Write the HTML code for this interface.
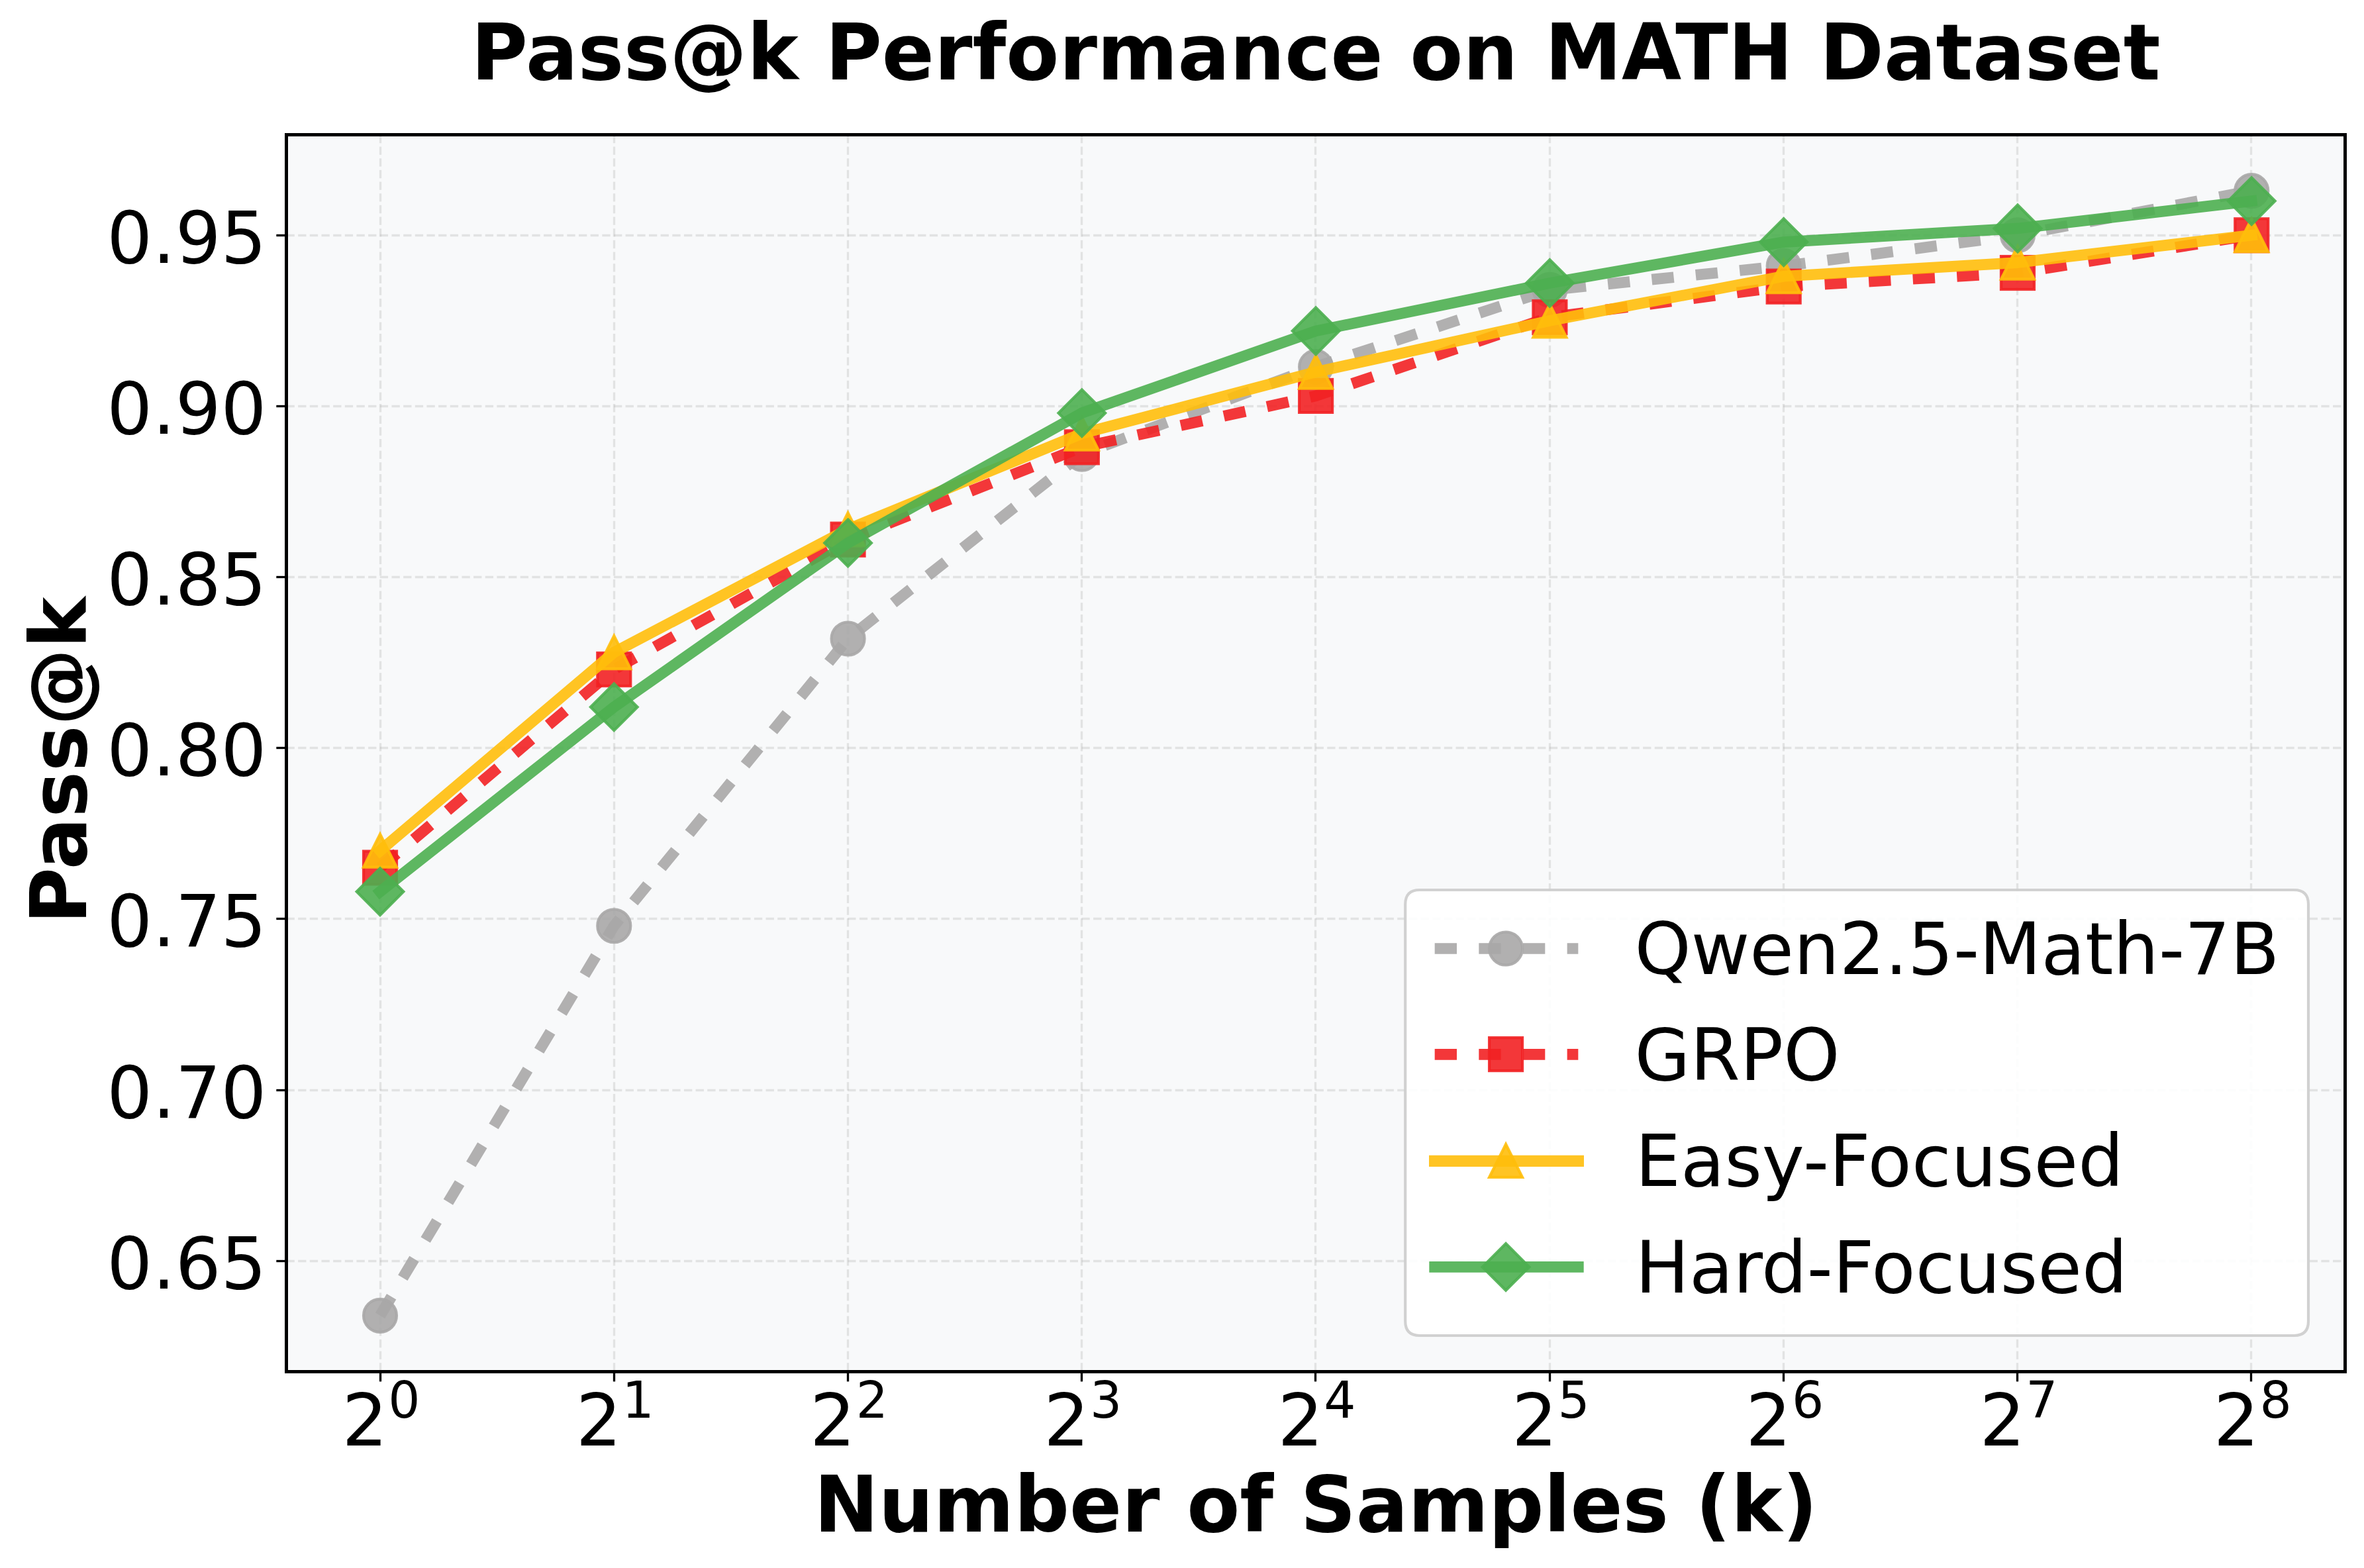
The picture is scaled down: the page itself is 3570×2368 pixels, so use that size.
<!DOCTYPE html>
<html lang="en">
<head>
<meta charset="utf-8">
<title>Pass@k Performance on MATH Dataset</title>
<style>
html,body{margin:0;padding:0;background:#fff;}
body{width:3570px;height:2368px;overflow:hidden;}
svg{display:block;}
svg text{font-family:"DejaVu Sans", "Liberation Sans", sans-serif;fill:#000;}
</style>
</head>
<body>
<svg width="3570" height="2368" viewBox="0 0 3570 2368">
<rect width="3570" height="2368" fill="#ffffff"/>
<rect x="436" y="207" width="3102" height="1861" fill="#f8f9fa"/>
<g stroke="#b0b0b0" stroke-opacity="0.3" stroke-width="3.33" stroke-dasharray="12.33 5.33" fill="none">
<path d="M574.5 2070.5 V203.5"/>
<path d="M927.5 2070.5 V203.5"/>
<path d="M1280.5 2070.5 V203.5"/>
<path d="M1633.5 2070.5 V203.5"/>
<path d="M1986.5 2070.5 V203.5"/>
<path d="M2340.5 2070.5 V203.5"/>
<path d="M2693.5 2070.5 V203.5"/>
<path d="M3046.5 2070.5 V203.5"/>
<path d="M3399.5 2070.5 V203.5"/>
<path d="M432.5 1904.5 H3541.5"/>
<path d="M432.5 1646.5 H3541.5"/>
<path d="M432.5 1387.5 H3541.5"/>
<path d="M432.5 1129.5 H3541.5"/>
<path d="M432.5 871.5 H3541.5"/>
<path d="M432.5 613.5 H3541.5"/>
<path d="M432.5 355.5 H3541.5"/>
</g>
<clipPath id="axclip"><rect x="432.5" y="203.5" width="3109" height="1868"/></clipPath>
<g clip-path="url(#axclip)">
<path d="M574 1986.86 L927.28 1398.24 L1280.56 964.52 L1633.84 685.7 L1987.12 554.04 L2340.4 437.86 L2693.68 401.72 L3046.96 355.25 L3400.24 288.13" fill="none" stroke="#a9a7a7" stroke-opacity="0.9" stroke-width="16.67" stroke-dasharray="33.33 33.33" stroke-linecap="butt" stroke-linejoin="round"/>
<circle cx="574" cy="1986.86" r="25" fill="#a9a7a7" stroke="#a9a7a7" stroke-width="4.17" fill-opacity="0.9" stroke-opacity="0.9" stroke-linejoin="miter"/>
<circle cx="927.28" cy="1398.24" r="25" fill="#a9a7a7" stroke="#a9a7a7" stroke-width="4.17" fill-opacity="0.9" stroke-opacity="0.9" stroke-linejoin="miter"/>
<circle cx="1280.56" cy="964.52" r="25" fill="#a9a7a7" stroke="#a9a7a7" stroke-width="4.17" fill-opacity="0.9" stroke-opacity="0.9" stroke-linejoin="miter"/>
<circle cx="1633.84" cy="685.7" r="25" fill="#a9a7a7" stroke="#a9a7a7" stroke-width="4.17" fill-opacity="0.9" stroke-opacity="0.9" stroke-linejoin="miter"/>
<circle cx="1987.12" cy="554.04" r="25" fill="#a9a7a7" stroke="#a9a7a7" stroke-width="4.17" fill-opacity="0.9" stroke-opacity="0.9" stroke-linejoin="miter"/>
<circle cx="2340.4" cy="437.86" r="25" fill="#a9a7a7" stroke="#a9a7a7" stroke-width="4.17" fill-opacity="0.9" stroke-opacity="0.9" stroke-linejoin="miter"/>
<circle cx="2693.68" cy="401.72" r="25" fill="#a9a7a7" stroke="#a9a7a7" stroke-width="4.17" fill-opacity="0.9" stroke-opacity="0.9" stroke-linejoin="miter"/>
<circle cx="3046.96" cy="355.25" r="25" fill="#a9a7a7" stroke="#a9a7a7" stroke-width="4.17" fill-opacity="0.9" stroke-opacity="0.9" stroke-linejoin="miter"/>
<circle cx="3400.24" cy="288.13" r="25" fill="#a9a7a7" stroke="#a9a7a7" stroke-width="4.17" fill-opacity="0.9" stroke-opacity="0.9" stroke-linejoin="miter"/>
<path d="M574 1310.47 L927.28 1010.99 L1280.56 814.79 L1633.84 675.38 L1987.12 597.93 L2340.4 479.17 L2693.68 432.7 L3046.96 412.05 L3400.24 355.25" fill="none" stroke="#f22123" stroke-opacity="0.9" stroke-width="16.67" stroke-dasharray="33.33 33.33" stroke-linecap="butt" stroke-linejoin="round"/>
<rect x="549" y="1285.47" width="50" height="50" fill="#f22123" stroke="#f22123" stroke-width="4.17" fill-opacity="0.9" stroke-opacity="0.9" stroke-linejoin="miter"/>
<rect x="902.28" y="985.99" width="50" height="50" fill="#f22123" stroke="#f22123" stroke-width="4.17" fill-opacity="0.9" stroke-opacity="0.9" stroke-linejoin="miter"/>
<rect x="1255.56" y="789.79" width="50" height="50" fill="#f22123" stroke="#f22123" stroke-width="4.17" fill-opacity="0.9" stroke-opacity="0.9" stroke-linejoin="miter"/>
<rect x="1608.84" y="650.38" width="50" height="50" fill="#f22123" stroke="#f22123" stroke-width="4.17" fill-opacity="0.9" stroke-opacity="0.9" stroke-linejoin="miter"/>
<rect x="1962.12" y="572.93" width="50" height="50" fill="#f22123" stroke="#f22123" stroke-width="4.17" fill-opacity="0.9" stroke-opacity="0.9" stroke-linejoin="miter"/>
<rect x="2315.4" y="454.17" width="50" height="50" fill="#f22123" stroke="#f22123" stroke-width="4.17" fill-opacity="0.9" stroke-opacity="0.9" stroke-linejoin="miter"/>
<rect x="2668.68" y="407.7" width="50" height="50" fill="#f22123" stroke="#f22123" stroke-width="4.17" fill-opacity="0.9" stroke-opacity="0.9" stroke-linejoin="miter"/>
<rect x="3021.96" y="387.05" width="50" height="50" fill="#f22123" stroke="#f22123" stroke-width="4.17" fill-opacity="0.9" stroke-opacity="0.9" stroke-linejoin="miter"/>
<rect x="3375.24" y="330.25" width="50" height="50" fill="#f22123" stroke="#f22123" stroke-width="4.17" fill-opacity="0.9" stroke-opacity="0.9" stroke-linejoin="miter"/>
<path d="M574 1284.65 L927.28 985.18 L1280.56 799.3 L1633.84 654.72 L1987.12 561.78 L2340.4 484.33 L2693.68 417.21 L3046.96 396.56 L3400.24 355.25" fill="none" stroke="#ffbe0b" stroke-opacity="0.9" stroke-width="16.67" stroke-linecap="square" stroke-linejoin="round"/>
<polygon points="574,1259.65 549,1309.65 599,1309.65" fill="#ffbe0b" stroke="#ffbe0b" stroke-width="4.17" fill-opacity="0.9" stroke-opacity="0.9" stroke-linejoin="miter"/>
<polygon points="927.28,960.18 902.28,1010.18 952.28,1010.18" fill="#ffbe0b" stroke="#ffbe0b" stroke-width="4.17" fill-opacity="0.9" stroke-opacity="0.9" stroke-linejoin="miter"/>
<polygon points="1280.56,774.3 1255.56,824.3 1305.56,824.3" fill="#ffbe0b" stroke="#ffbe0b" stroke-width="4.17" fill-opacity="0.9" stroke-opacity="0.9" stroke-linejoin="miter"/>
<polygon points="1633.84,629.72 1608.84,679.72 1658.84,679.72" fill="#ffbe0b" stroke="#ffbe0b" stroke-width="4.17" fill-opacity="0.9" stroke-opacity="0.9" stroke-linejoin="miter"/>
<polygon points="1987.12,536.78 1962.12,586.78 2012.12,586.78" fill="#ffbe0b" stroke="#ffbe0b" stroke-width="4.17" fill-opacity="0.9" stroke-opacity="0.9" stroke-linejoin="miter"/>
<polygon points="2340.4,459.33 2315.4,509.33 2365.4,509.33" fill="#ffbe0b" stroke="#ffbe0b" stroke-width="4.17" fill-opacity="0.9" stroke-opacity="0.9" stroke-linejoin="miter"/>
<polygon points="2693.68,392.21 2668.68,442.21 2718.68,442.21" fill="#ffbe0b" stroke="#ffbe0b" stroke-width="4.17" fill-opacity="0.9" stroke-opacity="0.9" stroke-linejoin="miter"/>
<polygon points="3046.96,371.56 3021.96,421.56 3071.96,421.56" fill="#ffbe0b" stroke="#ffbe0b" stroke-width="4.17" fill-opacity="0.9" stroke-opacity="0.9" stroke-linejoin="miter"/>
<polygon points="3400.24,330.25 3375.24,380.25 3425.24,380.25" fill="#ffbe0b" stroke="#ffbe0b" stroke-width="4.17" fill-opacity="0.9" stroke-opacity="0.9" stroke-linejoin="miter"/>
<path d="M574 1346.61 L927.28 1067.79 L1280.56 819.95 L1633.84 623.74 L1987.12 499.82 L2340.4 427.54 L2693.68 365.58 L3046.96 344.92 L3400.24 303.62" fill="none" stroke="#4caf50" stroke-opacity="0.9" stroke-width="16.67" stroke-linecap="square" stroke-linejoin="round"/>
<polygon points="574,1311.25 609.36,1346.61 574,1381.97 538.64,1346.61" fill="#4caf50" stroke="#4caf50" stroke-width="4.17" fill-opacity="0.9" stroke-opacity="0.9" stroke-linejoin="miter"/>
<polygon points="927.28,1032.43 962.64,1067.79 927.28,1103.15 891.92,1067.79" fill="#4caf50" stroke="#4caf50" stroke-width="4.17" fill-opacity="0.9" stroke-opacity="0.9" stroke-linejoin="miter"/>
<polygon points="1280.56,784.59 1315.92,819.95 1280.56,855.31 1245.2,819.95" fill="#4caf50" stroke="#4caf50" stroke-width="4.17" fill-opacity="0.9" stroke-opacity="0.9" stroke-linejoin="miter"/>
<polygon points="1633.84,588.39 1669.2,623.74 1633.84,659.1 1598.48,623.74" fill="#4caf50" stroke="#4caf50" stroke-width="4.17" fill-opacity="0.9" stroke-opacity="0.9" stroke-linejoin="miter"/>
<polygon points="1987.12,464.47 2022.48,499.82 1987.12,535.18 1951.76,499.82" fill="#4caf50" stroke="#4caf50" stroke-width="4.17" fill-opacity="0.9" stroke-opacity="0.9" stroke-linejoin="miter"/>
<polygon points="2340.4,392.18 2375.76,427.54 2340.4,462.89 2305.04,427.54" fill="#4caf50" stroke="#4caf50" stroke-width="4.17" fill-opacity="0.9" stroke-opacity="0.9" stroke-linejoin="miter"/>
<polygon points="2693.68,330.22 2729.04,365.58 2693.68,400.93 2658.32,365.58" fill="#4caf50" stroke="#4caf50" stroke-width="4.17" fill-opacity="0.9" stroke-opacity="0.9" stroke-linejoin="miter"/>
<polygon points="3046.96,309.57 3082.32,344.92 3046.96,380.28 3011.6,344.92" fill="#4caf50" stroke="#4caf50" stroke-width="4.17" fill-opacity="0.9" stroke-opacity="0.9" stroke-linejoin="miter"/>
<polygon points="3400.24,268.26 3435.6,303.62 3400.24,338.97 3364.88,303.62" fill="#4caf50" stroke="#4caf50" stroke-width="4.17" fill-opacity="0.9" stroke-opacity="0.9" stroke-linejoin="miter"/>
</g>
<g stroke="#000" stroke-width="3.33" fill="none">
<path d="M574.5 2071.5 V2086.4"/>
<path d="M927.5 2071.5 V2086.4"/>
<path d="M1280.5 2071.5 V2086.4"/>
<path d="M1633.5 2071.5 V2086.4"/>
<path d="M1986.5 2071.5 V2086.4"/>
<path d="M2340.5 2071.5 V2086.4"/>
<path d="M2693.5 2071.5 V2086.4"/>
<path d="M3046.5 2071.5 V2086.4"/>
<path d="M3399.5 2071.5 V2086.4"/>
<path d="M432.5 1904.5 H417.3"/>
<path d="M432.5 1646.5 H417.3"/>
<path d="M432.5 1387.5 H417.3"/>
<path d="M432.5 1129.5 H417.3"/>
<path d="M432.5 871.5 H417.3"/>
<path d="M432.5 613.5 H417.3"/>
<path d="M432.5 355.5 H417.3"/>
</g>
<rect x="432.5" y="203.5" width="3109" height="1868" fill="none" stroke="#000" stroke-width="5"/>
<g font-size="108.33" text-anchor="end">
<text transform="translate(402.5 1945.7) scale(1 1.006)" textLength="241.18" lengthAdjust="spacingAndGlyphs">0.65</text>
<text transform="translate(402.5 1687.7) scale(1 1.006)" textLength="241.18" lengthAdjust="spacingAndGlyphs">0.70</text>
<text transform="translate(402.5 1428.7) scale(1 1.006)" textLength="241.18" lengthAdjust="spacingAndGlyphs">0.75</text>
<text transform="translate(402.5 1170.7) scale(1 1.006)" textLength="241.18" lengthAdjust="spacingAndGlyphs">0.80</text>
<text transform="translate(402.5 912.7) scale(1 1.006)" textLength="241.18" lengthAdjust="spacingAndGlyphs">0.85</text>
<text transform="translate(402.5 654.7) scale(1 1.006)" textLength="241.18" lengthAdjust="spacingAndGlyphs">0.90</text>
<text transform="translate(402.5 396.7) scale(1 1.006)" textLength="241.18" lengthAdjust="spacingAndGlyphs">0.95</text>
</g>
<g>
<text x="516.5" y="2183" font-size="108.33" textLength="68.92" lengthAdjust="spacingAndGlyphs">2</text><text x="586.2" y="2140.9" font-size="75.83" textLength="48.25" lengthAdjust="spacingAndGlyphs">0</text>
<text x="869.78" y="2183" font-size="108.33" textLength="68.92" lengthAdjust="spacingAndGlyphs">2</text><text x="939.48" y="2140.9" font-size="75.83" textLength="48.25" lengthAdjust="spacingAndGlyphs">1</text>
<text x="1223.06" y="2183" font-size="108.33" textLength="68.92" lengthAdjust="spacingAndGlyphs">2</text><text x="1292.76" y="2140.9" font-size="75.83" textLength="48.25" lengthAdjust="spacingAndGlyphs">2</text>
<text x="1576.34" y="2183" font-size="108.33" textLength="68.92" lengthAdjust="spacingAndGlyphs">2</text><text x="1646.04" y="2140.9" font-size="75.83" textLength="48.25" lengthAdjust="spacingAndGlyphs">3</text>
<text x="1929.62" y="2183" font-size="108.33" textLength="68.92" lengthAdjust="spacingAndGlyphs">2</text><text x="1999.32" y="2140.9" font-size="75.83" textLength="48.25" lengthAdjust="spacingAndGlyphs">4</text>
<text x="2282.9" y="2183" font-size="108.33" textLength="68.92" lengthAdjust="spacingAndGlyphs">2</text><text x="2352.6" y="2140.9" font-size="75.83" textLength="48.25" lengthAdjust="spacingAndGlyphs">5</text>
<text x="2636.18" y="2183" font-size="108.33" textLength="68.92" lengthAdjust="spacingAndGlyphs">2</text><text x="2705.88" y="2140.9" font-size="75.83" textLength="48.25" lengthAdjust="spacingAndGlyphs">6</text>
<text x="2989.46" y="2183" font-size="108.33" textLength="68.92" lengthAdjust="spacingAndGlyphs">2</text><text x="3059.16" y="2140.9" font-size="75.83" textLength="48.25" lengthAdjust="spacingAndGlyphs">7</text>
<text x="3342.74" y="2183" font-size="108.33" textLength="68.92" lengthAdjust="spacingAndGlyphs">2</text><text x="3412.44" y="2140.9" font-size="75.83" textLength="48.25" lengthAdjust="spacingAndGlyphs">8</text>
</g>
<text transform="translate(1987 119.9) scale(1 1.015)" font-size="116.67" font-weight="bold" text-anchor="middle" textLength="2550.83" lengthAdjust="spacingAndGlyphs">Pass@k Performance on MATH Dataset</text>
<text transform="translate(1987 2313.1) scale(1 1.015)" font-size="116.67" font-weight="bold" text-anchor="middle" textLength="1515.64" lengthAdjust="spacingAndGlyphs">Number of Samples (k)</text>
<text transform="translate(130.1 1148.5) rotate(-90) scale(1 1.015)" font-size="116.67" font-weight="bold" text-anchor="middle" textLength="494.19" lengthAdjust="spacingAndGlyphs">Pass@k</text>
<path d="M2143.87 1344 L3464.33 1344 Q3486 1344 3486 1365.67 L3486 1995.33 Q3486 2017 3464.33 2017 L2143.87 2017 Q2122.2 2017 2122.2 1995.33 L2122.2 1365.67 Q2122.2 1344 2143.87 1344 Z" fill="#ffffff" fill-opacity="0.9" stroke="#cccccc" stroke-opacity="0.9" stroke-width="4.17" stroke-linejoin="miter"/>
<path d="M2166.66 1432.5 H2383.33" fill="none" stroke="#a9a7a7" stroke-opacity="0.9" stroke-width="16.67" stroke-dasharray="33.33 33.33"/>
<circle cx="2274.06" cy="1432.5" r="25" fill="#a9a7a7" stroke="#a9a7a7" stroke-width="4.17" fill-opacity="0.9" stroke-opacity="0.9" stroke-linejoin="miter"/>
<text x="2468.5" y="1471" font-size="108.33" textLength="973.84" lengthAdjust="spacingAndGlyphs">Qwen2.5-Math-7B</text>
<path d="M2166.66 1592.4 H2383.33" fill="none" stroke="#f22123" stroke-opacity="0.9" stroke-width="16.67" stroke-dasharray="33.33 33.33"/>
<rect x="2249.06" y="1567.1" width="50" height="50" fill="#f22123" stroke="#f22123" stroke-width="4.17" fill-opacity="0.9" stroke-opacity="0.9" stroke-linejoin="miter"/>
<text x="2468.6" y="1631" font-size="108.33" textLength="309.81" lengthAdjust="spacingAndGlyphs">GRPO</text>
<path d="M2166.66 1753.45 H2383.33" fill="none" stroke="#ffbe0b" stroke-opacity="0.9" stroke-width="17.3" stroke-linecap="square"/>
<polygon points="2274.06,1727.95 2249.06,1777.95 2299.06,1777.95" fill="#ffbe0b" stroke="#ffbe0b" stroke-width="4.17" fill-opacity="0.9" stroke-opacity="0.9" stroke-linejoin="miter"/>
<text x="2469.6" y="1791.2" font-size="108.33" textLength="737.36" lengthAdjust="spacingAndGlyphs">Easy-Focused</text>
<path d="M2166.66 1913.4 H2383.33" fill="none" stroke="#4caf50" stroke-opacity="0.9" stroke-width="16.67" stroke-linecap="square"/>
<polygon points="2274.06,1878.04 2309.42,1913.4 2274.06,1948.76 2238.7,1913.4" fill="#4caf50" stroke="#4caf50" stroke-width="4.17" fill-opacity="0.9" stroke-opacity="0.9" stroke-linejoin="miter"/>
<text x="2469.6" y="1951.5" font-size="108.33" textLength="743.13" lengthAdjust="spacingAndGlyphs">Hard-Focused</text>
</svg>
</body>
</html>
